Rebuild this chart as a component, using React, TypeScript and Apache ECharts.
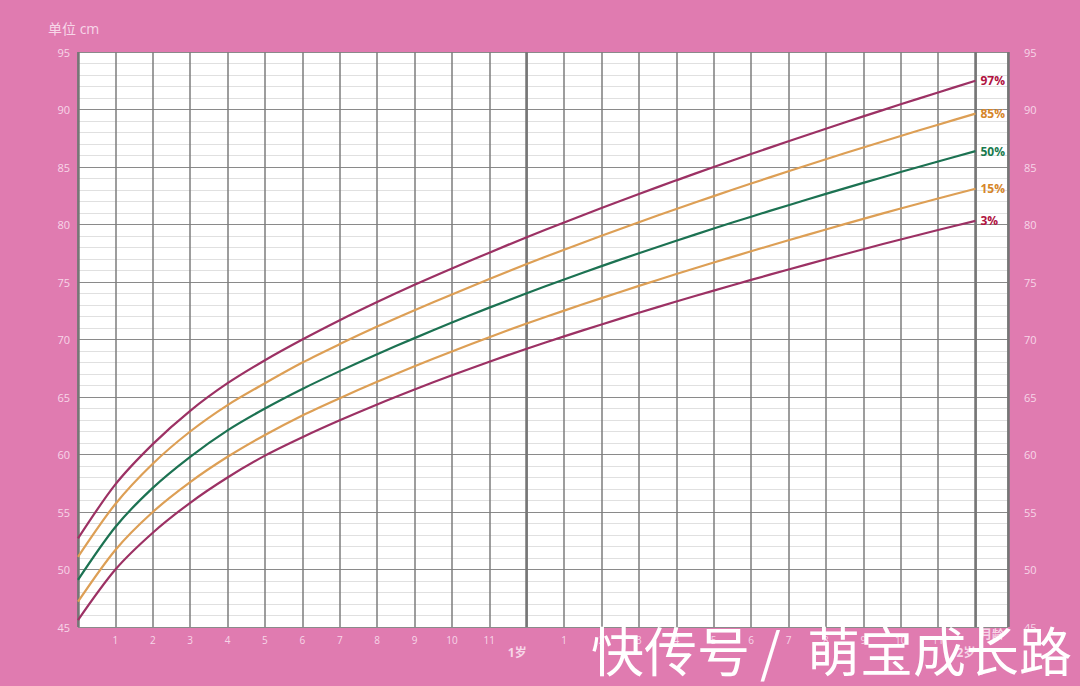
import React, { useEffect, useRef } from "react";
import * as echarts from "echarts";

const months = [0, 1, 2, 3, 4, 5, 6, 7, 8, 9, 10, 11, 12, 13, 14, 15, 16, 17, 18, 19, 20, 21, 22, 23, 24];
const p97 = [52.7, 57.4, 60.9, 63.8, 66.2, 68.2, 70.0, 71.68, 73.26, 74.76, 76.18, 77.55, 78.9, 80.18, 81.43, 82.65, 83.84, 85.0, 86.13, 87.24, 88.33, 89.4, 90.45, 91.48, 92.5];
const p85 = [51.1, 55.7, 59.2, 62.0, 64.3, 66.2, 68.0, 69.6, 71.12, 72.55, 73.92, 75.26, 76.56, 77.81, 79.02, 80.2, 81.35, 82.47, 83.56, 84.63, 85.68, 86.7, 87.7, 88.68, 89.64];
const p50 = [49.1, 53.7, 57.1, 59.8, 62.1, 64.0, 65.7, 67.25, 68.72, 70.12, 71.47, 72.77, 74.02, 75.22, 76.38, 77.5, 78.59, 79.65, 80.68, 81.68, 82.66, 83.62, 84.56, 85.48, 86.38];
const p15 = [47.2, 51.7, 55.0, 57.6, 59.8, 61.7, 63.4, 64.9, 66.32, 67.67, 68.96, 70.2, 71.39, 72.51, 73.6, 74.66, 75.69, 76.69, 77.67, 78.63, 79.57, 80.49, 81.39, 82.26, 83.11];
const p3 = [45.6, 50.0, 53.2, 55.8, 58.0, 59.9, 61.5, 62.97, 64.35, 65.65, 66.89, 68.07, 69.2, 70.27, 71.31, 72.32, 73.3, 74.25, 75.18, 76.09, 76.98, 77.85, 78.7, 79.52, 80.32];

const seriesNames = ["97%", "85%", "50%", "15%", "3%"];
const seriesValues = [p97, p85, p50, p15, p3];
const lineColors = ["#9c3164", "#dd9f55", "#1c7252", "#dd9f55", "#9c3164"];
const labelColors = ["#b0123f", "#d6862a", "#177a4e", "#d6862a", "#b0123f"];

const yearLabels: Record<number, string> = { 12: "1岁", 24: "2岁" };

const PINK = "#e07bb0";
const TXT = "#f7d6e8";
const FONT = "'Open Sans', 'Noto Sans CJK SC', sans-serif";
const CJK = "'Noto Sans CJK SC', sans-serif";

export default function App() {
  const ref = useRef<HTMLDivElement>(null);
  useEffect(() => {
    document.body.style.margin = "0";
    const chart = echarts.init(ref.current!, null, { renderer: "svg" });
    const xMax = 24.87;
    chart.setOption({
      animation: false,
      backgroundColor: PINK,
      textStyle: { fontFamily: FONT },
      grid: {
        left: 78,
        top: 52,
        width: 930,
        height: 575,
        show: true,
        backgroundColor: "#ffffff",
        borderWidth: 0,
      },
      xAxis: [
        {
          type: "value",
          min: 0,
          max: xMax,
          interval: 1,
          axisLine: { show: false },
          axisTick: { show: false },
          splitLine: { show: true, lineStyle: { color: "#7c7c7c", width: 1.5 } },
          axisLabel: {
            color: TXT,
            fontSize: 10,
            margin: 8,
            formatter: (v: number) => {
              if (Math.abs(v - Math.round(v)) > 1e-6) return "";
              const m = Math.round(v);
              if (m === 0 || m === 12 || m === 24) return "";
              return String(m > 12 ? m - 12 : m);
            },
          },
        },
        {
          type: "value",
          min: 0,
          max: xMax,
          interval: 12,
          position: "bottom",
          axisLine: { show: false },
          axisTick: { show: false },
          splitLine: { show: true, lineStyle: { color: "#767676", width: 2.5 } },
          axisLabel: {
            color: TXT,
            fontSize: 12,
            fontWeight: "bold",
            margin: 19,
            align: "right",
            formatter: (v: number) =>
              Math.abs(v - Math.round(v)) < 1e-6 && yearLabels[Math.round(v)] ? yearLabels[Math.round(v)] : "",
          },
        },
      ],
      yAxis: [
        {
          type: "value",
          min: 45,
          max: 95,
          interval: 1,
          axisLine: { show: false },
          axisTick: { show: false },
          splitLine: {
            show: true,
            lineStyle: { color: ["#8a8a8a", "#e0e0e0", "#e0e0e0", "#e0e0e0", "#e0e0e0"], width: 1 },
          },
          axisLabel: {
            color: TXT,
            fontSize: 11,
            margin: 8,
            formatter: (v: number) => (v % 5 === 0 ? String(v) : ""),
          },
        },
        {
          type: "value",
          min: 45,
          max: 95,
          interval: 1,
          position: "right",
          axisLine: { show: false },
          axisTick: { show: false },
          splitLine: { show: false },
          axisLabel: {
            color: TXT,
            fontSize: 11,
            margin: 16,
            formatter: (v: number) => (v % 5 === 0 ? String(v) : ""),
          },
        },
      ],
      series: seriesNames.map((name, i) => ({
        name,
        type: "line",
        xAxisIndex: 0,
        yAxisIndex: 0,
        smooth: 0.3,
        symbol: "none",
        data: months.map((m, j) => [m, seriesValues[i][j]]),
        lineStyle: { color: lineColors[i], width: 2.2 },
        endLabel: {
          show: true,
          formatter: "{a}",
          color: labelColors[i],
          fontWeight: "bold",
          fontSize: 12,
          distance: 5,
          fontFamily: FONT,
        },
      })),
      graphic: [
        {
          type: "text",
          left: 48,
          top: 21,
          style: { text: "单位 cm", fill: TXT, fontSize: 14, fontFamily: FONT },
        },
        {
          type: "text",
          left: 980,
          top: 628,
          style: { text: "月龄", fill: TXT, fontSize: 12, fontWeight: "bold", fontFamily: FONT },
        },
        {
          type: "text",
          left: 591,
          top: 622,
          z: 100,
          style: { text: "快传号", fill: "#ffffff", fontSize: 53, fontFamily: CJK },
        },
        {
          type: "text",
          left: 760,
          top: 622,
          z: 100,
          style: { text: "/", fill: "#ffffff", fontSize: 53, fontFamily: CJK },
        },
        {
          type: "text",
          left: 807,
          top: 622,
          z: 100,
          style: { text: "萌宝成长路", fill: "#ffffff", fontSize: 53, fontFamily: CJK },
        },
      ],
    });
    return () => chart.dispose();
  }, []);
  return <div ref={ref} style={{ width: 1080, height: 686 }} />;
}
